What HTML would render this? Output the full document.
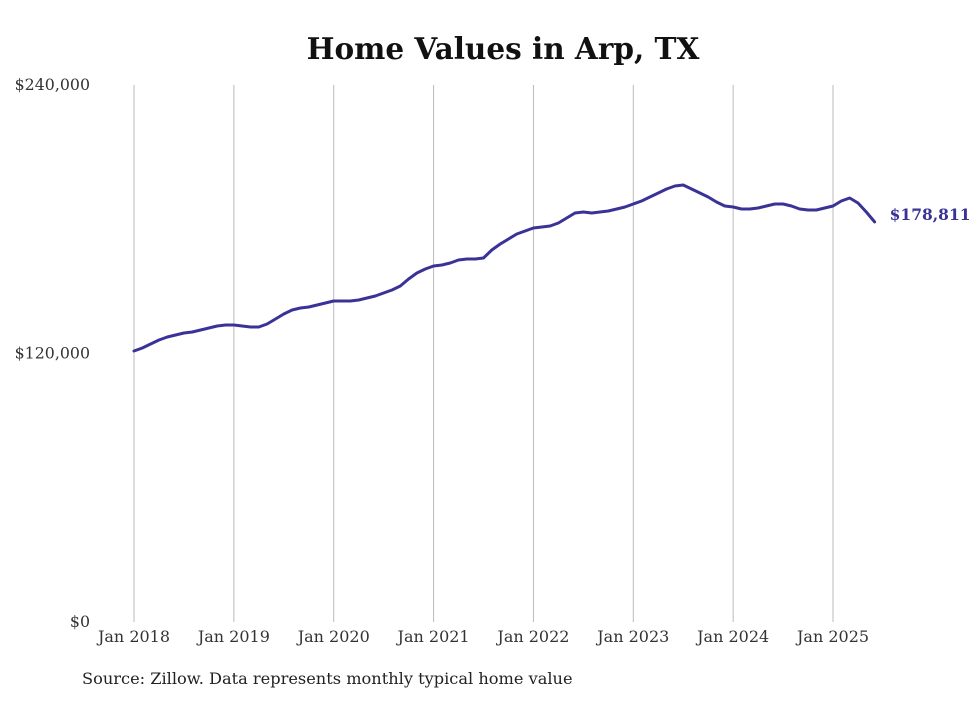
<!DOCTYPE html>
<html><head><meta charset="utf-8"><style>
body{margin:0;background:#fff;}
svg text{font-family:"DejaVu Serif","Liberation Serif",serif;}
</style></head><body>
<svg id="chart" width="980" height="699" xmlns="http://www.w3.org/2000/svg">
<rect width="980" height="699" fill="#fff"/>
<text x="503" y="59" text-anchor="middle" font-size="29.5" font-weight="bold" fill="#111">Home Values in Arp, TX</text>
<g id="grid"></g><g id="yticks"></g><g id="xticks"></g><g id="series"></g>
<text x="82" y="684" font-size="16.2" fill="#222">Source: Zillow. Data represents monthly typical home value</text>
</svg>
<script>
const yTickValues=[0,120000,240000];
const yTickLabels=["$0","$120,000","$240,000"];
const xTickLabels=["Jan 2018","Jan 2019","Jan 2020","Jan 2021","Jan 2022","Jan 2023","Jan 2024","Jan 2025"];
const startYear=2018;
const values=[
121118,122459,124247,126034,127375,128269,129163,129610,130504,131397,132291,132738,
132738,132291,131844,131844,133185,135420,137654,139442,140336,140783,141677,142571,
143464,143464,143464,143911,144805,145699,147040,148381,150168,153297,155979,157766,
159107,159554,160448,161789,162236,162236,162683,166258,168940,171174,173409,174750,
176090,176537,176984,178325,180560,182794,183241,182794,183241,183688,184582,185476,
186817,188158,189945,191733,193521,194861,195308,193521,191733,189945,187711,185923,
185476,184582,184582,185029,185923,186817,186817,185923,184582,184135,184135,185029,
185923,188158,189498,187264,183241,178811];
const lastLabel="$178,811";
const NS="http://www.w3.org/2000/svg";
const x0=134,perYear=99.86,yBase=622,yTop=85,yMax=240000;
const xScale=m=>x0+m*perYear/12;
const yScale=v=>yBase-(v/yMax)*(yBase-yTop);
function mk(tag,attrs,parent){const e=document.createElementNS(NS,tag);for(const k in attrs)e.setAttribute(k,attrs[k]);document.getElementById(parent).appendChild(e);return e;}
xTickLabels.forEach((l,i)=>{
 const x=xScale(i*12);
 const g=mk('line',{x1:x,x2:x,y1:yTop,y2:yBase,stroke:'#bbb','stroke-width':1},'grid');
 
 
 const t=mk('text',{x:x,y:642,'text-anchor':'middle','font-size':16,fill:'#333'},'xticks');
 t.textContent=l;
 
 
});
yTickValues.forEach((v,i)=>{
 const t=mk('text',{x:90,y:yScale(v)+5,'text-anchor':'end','font-size':15.8,fill:'#333'},'yticks');
 t.textContent=yTickLabels[i];
 
 
});
const d=values.map((v,i)=>(i?'L':'M')+xScale(i).toFixed(1)+' '+yScale(v).toFixed(1)).join(' ');
const p=mk('path',{d:d,fill:'none',stroke:'#3a3397','stroke-width':3,'stroke-linejoin':'round','stroke-linecap':'round'},'series');


const li=values.length-1;
const lt=mk('text',{x:xScale(li)+15,y:yScale(values[li])-2,'font-size':15.5,'font-weight':'bold',fill:'#3a3397'},'series');
lt.textContent=lastLabel;


</script>
</body></html>
